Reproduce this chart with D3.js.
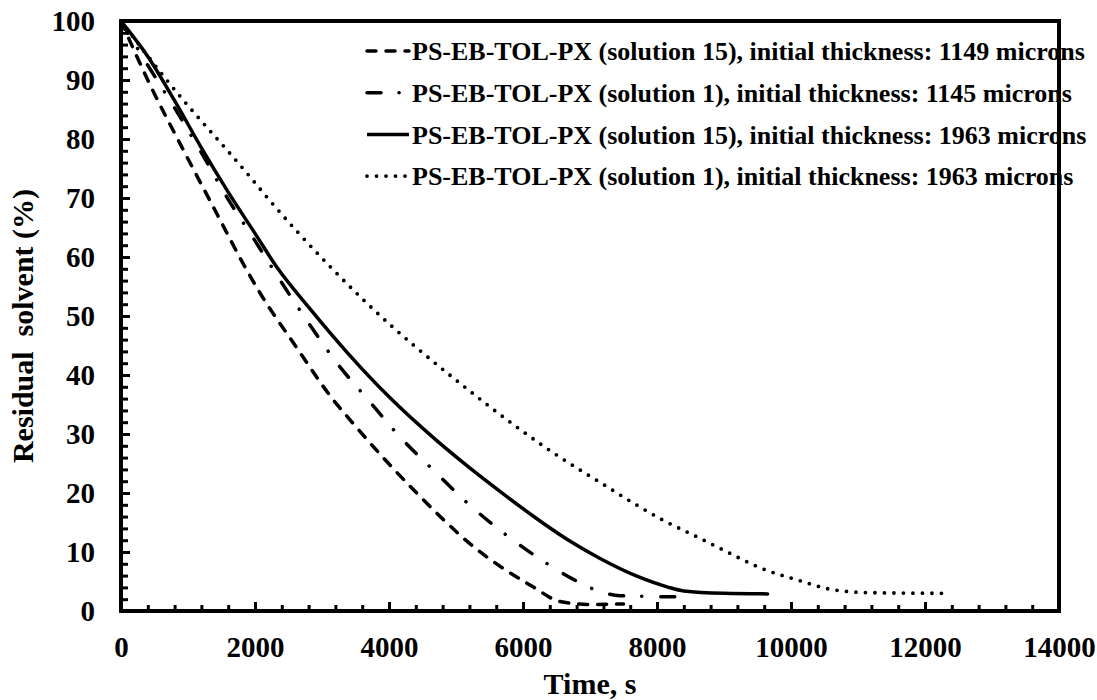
<!DOCTYPE html>
<html>
<head>
<meta charset="utf-8">
<script src="https://cdn.jsdelivr.net/npm/d3@7"></script>
<style>
  html, body { margin: 0; padding: 0; background: #fff; }
  svg text { font-family: "Liberation Serif", "Times New Roman", Times, serif; font-weight: bold; fill: #000; }
</style>
</head>
<body>
<svg id="chart" width="1097" height="700"></svg>
<script>
// ---- Data (time in s, residual solvent in %) ----
const seriesNames = [
  "PS-EB-TOL-PX (solution 15), initial thickness: 1149 microns",
  "PS-EB-TOL-PX (solution 1), initial thickness: 1145 microns",
  "PS-EB-TOL-PX (solution 15), initial thickness: 1963 microns",
  "PS-EB-TOL-PX (solution 1), initial thickness: 1963 microns"
];
const sol15_1149 = [[0,100],[433,89.2],[928,78.2],[1400,68],[1876,57.8],[2075,53.9],[2600,45],[3168,35.8],[3418,32.4],[4413,20.0],[5284,10.7],[6149,4.1],[6552,1.6],[7000,1.1],[7500,1.2]];
const sol1_1145 = [[0,100],[400,92.5],[831,84.7],[1204,77.6],[1577,70.2],[1975,63.2],[2373,56.1],[2776,49.2],[3224,42.0],[3687,35.8],[4164,29.5],[4687,23.6],[5239,17.6],[5806,12.4],[6433,7.5],[6746,5.4],[7075,3.6],[7448,2.6],[7821,2.5],[8194,2.4],[8500,2.4]];
const sol15_1963 = [[0,100],[400,94],[800,86.5],[1200,78.5],[1600,71],[2000,64],[2330,58.2],[2800,51.5],[3400,43.5],[4000,36.3],[4700,29.0],[5200,24.3],[5700,19.9],[6150,16.1],[6650,12.2],[7150,8.9],[7700,5.9],[8150,4.1],[8400,3.4],[9000,3.0],[9650,2.9]];
const sol1_1963 = [[0,100],[682,90],[1925,73.6],[2174,70.2],[3119,58.4],[3667,52.2],[5159,37.7],[5905,31.2],[6428,27.0],[7249,21.1],[7646,18.3],[8090,15.4],[8592,12.6],[8891,10.9],[9637,6.9],[10085,5.3],[10627,3.6],[11200,3.1],[12300,3.0]];

const xTicks = [0,2000,4000,6000,8000,10000,12000,14000];
const yTicks = [0,10,20,30,40,50,60,70,80,90,100];
const xTitle = "Time, s";
const yTitle = "Residual  solvent (%)";

// ---- Layout ----
const W = 1097, H = 700;
const m = {left: 121, right: 38, top: 21, bottom: 89};
const iw = W - m.left - m.right, ih = H - m.top - m.bottom;

const svg = d3.select("#chart");
const g = svg.append("g").attr("transform", `translate(${m.left},${m.top})`);

const x = d3.scaleLinear().domain([0,14000]).range([0, iw]);
const y = d3.scaleLinear().domain([0,100]).range([ih, 0]);

const fontSize = 29;

// minor ticks
const xMinor = d3.range(0, 14001, 400).filter(v => v % 2000 !== 0);
const yMinor = d3.range(0, 101, 2).filter(v => v % 10 !== 0);

const xMinorAxis = g.append("g").attr("transform", `translate(0,${ih})`)
  .call(d3.axisBottom(x).tickValues(xMinor).tickSize(-6).tickFormat(""));
const yMinorAxis = g.append("g")
  .call(d3.axisLeft(y).tickValues(yMinor).tickSize(-7).tickFormat(""));

const xAxis = g.append("g").attr("transform", `translate(0,${ih})`)
  .call(d3.axisBottom(x).tickValues(xTicks).tickSize(-9).tickPadding(25).tickFormat(d3.format("d")));
const yAxis = g.append("g")
  .call(d3.axisLeft(y).tickValues(yTicks).tickSize(-9).tickPadding(26).tickFormat(d3.format("d")));

[xMinorAxis, yMinorAxis, xAxis, yAxis].forEach(a => {
  a.select(".domain").remove();
  a.selectAll(".tick line").attr("stroke", "#000").attr("stroke-width", 3);
  a.selectAll("text").attr("font-size", fontSize).attr("fill", "#000")
    .style("font-family", '"Liberation Serif", "Times New Roman", serif').style("font-weight", "bold");
});

// frame
g.append("rect").attr("x", 0).attr("y", 0).attr("width", iw).attr("height", ih)
  .attr("fill", "none").attr("stroke", "#000").attr("stroke-width", 4);

// ---- Lines ----
const styles = [
  {data: sol15_1149, dash: "9,10", w: 3.5},
  {data: sol1_1145, dash: "14,18,0.1,19", w: 3.5},
  {data: sol15_1963, dash: null, w: 3.5},
  {data: sol1_1963, dash: "0,9.5", w: 3.8}
];

const line = d3.line().x(d => x(d[0])).y(d => y(d[1])).curve(d3.curveMonotoneX);

styles.slice().reverse().forEach(s => {
  g.append("path").datum(s.data)
    .attr("d", line)
    .attr("fill", "none").attr("stroke", "#000")
    .attr("stroke-width", s.w)
    .attr("stroke-linecap", "round")
    .attr("stroke-linejoin", "round")
    .attr("stroke-dasharray", s.dash);
});

// ---- Legend ----
const legX0 = 367, legX1 = 409, legY0 = 51, legDy = 41.7;
const leg = svg.append("g");
styles.forEach((s, i) => {
  const yy = legY0 + i * legDy;
  leg.append("line").attr("x1", legX0).attr("x2", legX1).attr("y1", yy).attr("y2", yy)
    .attr("stroke", "#000").attr("stroke-width", s.w).attr("stroke-linecap", s.dash ? "round" : "butt")
    .attr("stroke-dasharray", s.dash);
  leg.append("text").attr("x", legX1 + 3).attr("y", yy).attr("dy", "0.35em")
    .attr("font-size", 26).text(seriesNames[i]);
});

// ---- Axis titles ----
svg.append("text").attr("x", m.left + iw/2).attr("y", 694)
  .attr("text-anchor", "middle").attr("font-size", 30).text(xTitle);
svg.append("text").attr("transform", `translate(33,${m.top + ih/2 + 10}) rotate(-90)`)
  .attr("text-anchor", "middle").attr("font-size", 30).style("white-space", "pre").text(yTitle);
</script>
</body>
</html>
